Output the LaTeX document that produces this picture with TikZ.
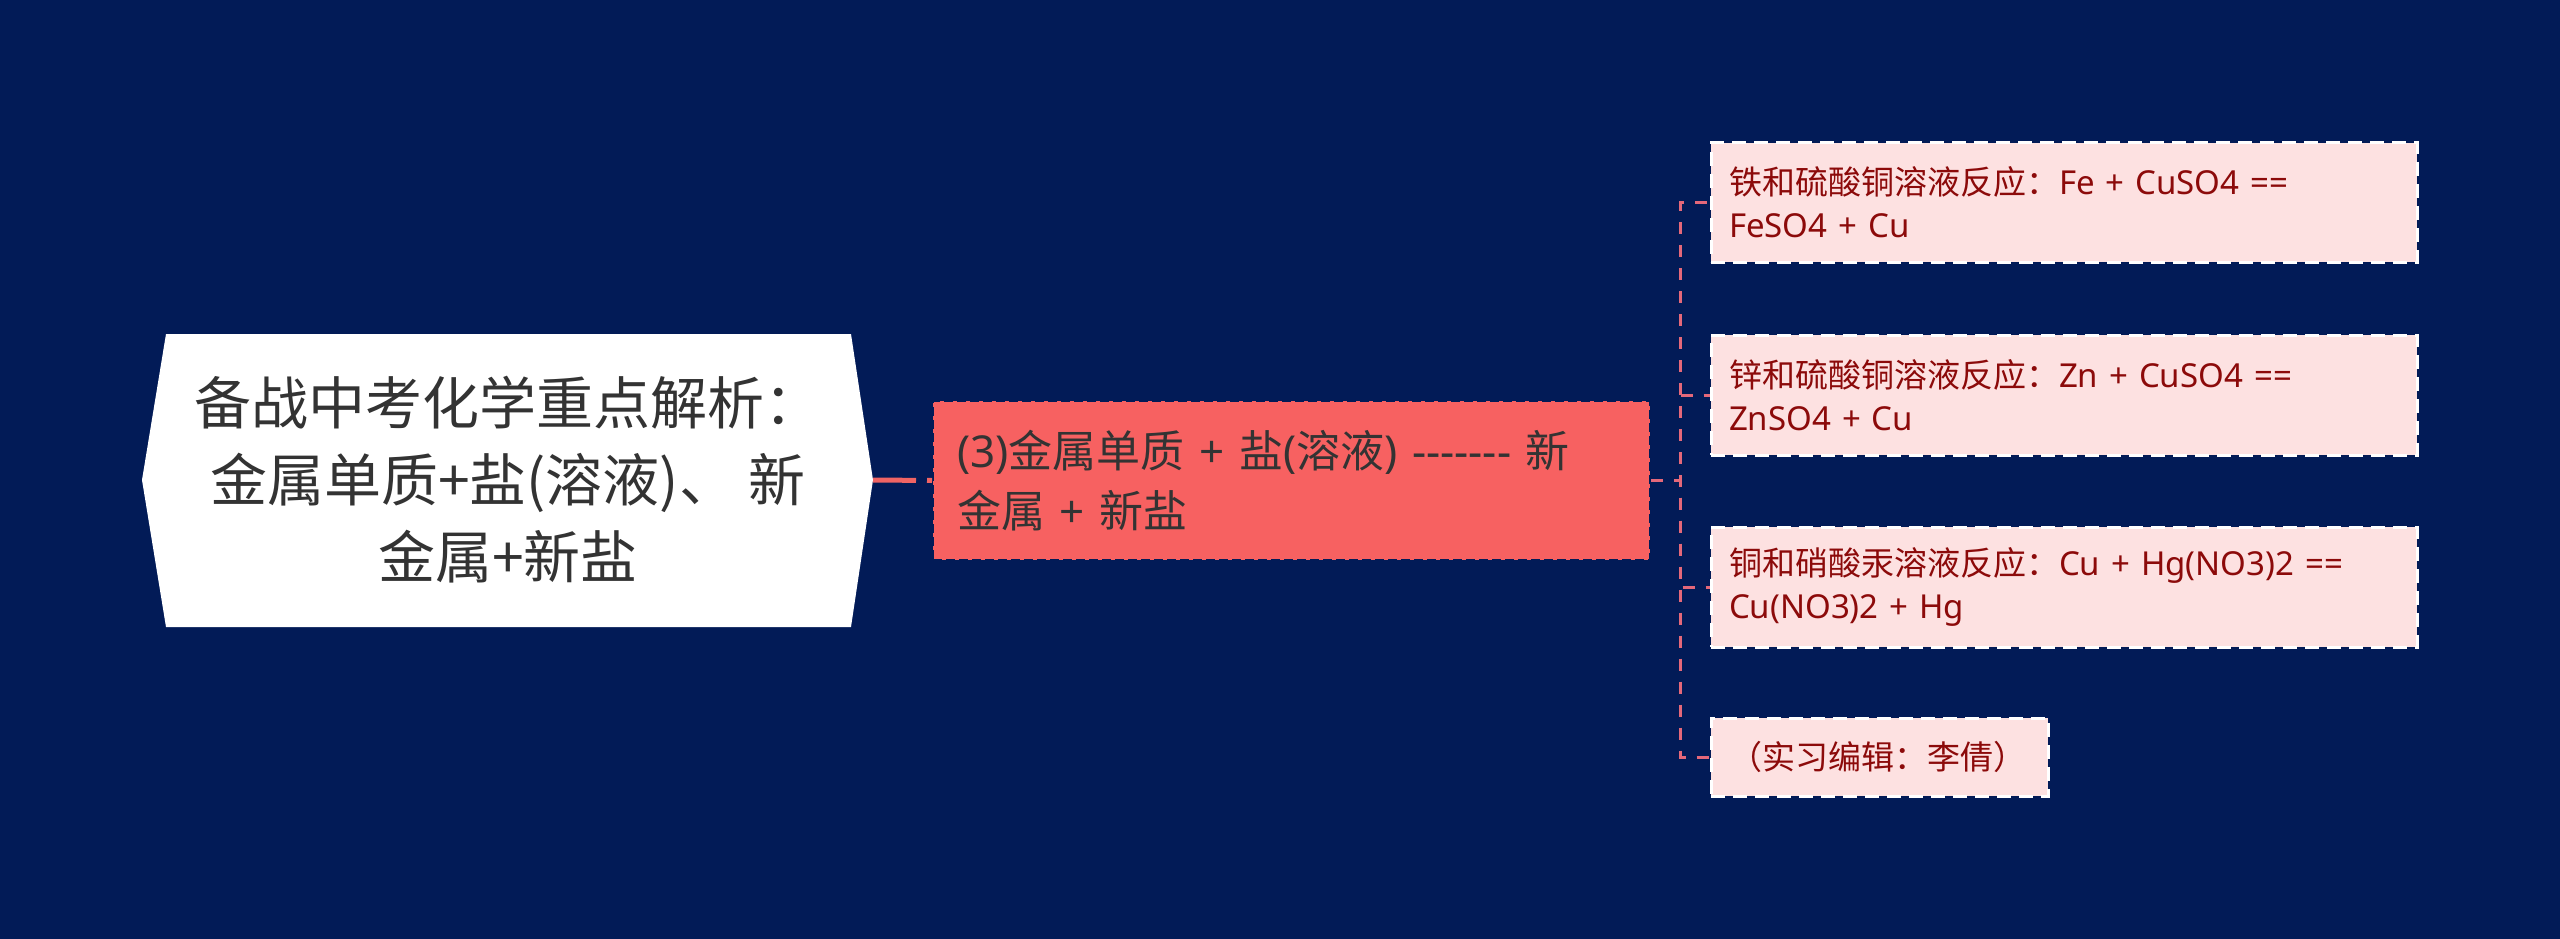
\documentclass[tikz,border=0pt]{standalone}
\usepackage{fontspec}
\setmainfont{Noto Sans CJK SC}
\newfontfamily\lat{Noto Sans}
\newcommand{\hy}{-\kern0pt}
\definecolor{bg}{HTML}{021B57}
\definecolor{coral}{HTML}{F76161}
\definecolor{leaffill}{HTML}{FDE1E1}
\definecolor{leaftext}{HTML}{8C0A0A}
\definecolor{darktext}{HTML}{333333}
\definecolor{linkred}{HTML}{F06464}
\definecolor{linkpink}{HTML}{E4687A}
\tikzset{
  roottext/.style={align=center, text=darktext, inner sep=0pt,
    font=\fontsize{57}{77}\selectfont},
  midbox/.style={rectangle, fill=coral, draw=bg, line width=2pt,
    dash pattern=on 9pt off 4pt, text=darktext, align=left,
    minimum width=717pt, minimum height=159pt, text width=669pt,
    inner xsep=24pt, inner ysep=0pt, font=\fontsize{44}{60}\selectfont},
  leafbox/.style={rectangle, fill=leaffill,
    preaction={draw=bg, line width=3pt},
    draw=white, line width=3pt, dash pattern=on 14pt off 8pt,
    text=leaftext, align=left, inner xsep=18pt, inner ysep=0pt,
    font=\fontsize{33}{43}\selectfont},
  rootlink/.style={draw=linkred, line width=5pt, dash pattern=on 43pt off 11pt},
  leaflink/.style={draw=linkpink, line width=3pt, dash pattern=on 12pt off 11pt}
}
\begin{document}
\begin{tikzpicture}[x=1pt,y=-1pt]
\fill[bg] (0,0) rectangle (2560,939);
\useasboundingbox (0,0) rectangle (2560,939);
% root hexagon
\fill[white] (142,480) -- (166,334) -- (851,334) -- (873,480) -- (851,627) -- (166,627) -- cycle;
\node[roottext] (root) at (508,480) {备战中考化学重点解析：\\金属单质+盐(溶液)、 新\\金属+新盐};
\coordinate (rootE) at (873,480);
% middle node
\node[midbox] (mid) at (1291.5,480.5) {{\lat (3)}金属单质{\lat\ + }盐{\lat (}溶液{\lat ) \hy\hy\hy\hy\hy\hy\hy\ }新\\金属{\lat\ + }新盐};
% leaves
\node[leafbox, minimum width=706pt, minimum height=119pt, text width=670pt] (leaf1) at (2064,202.5) {铁和硫酸铜溶液反应：{\lat Fe + CuSO4 ==}\\{\lat FeSO4 + Cu}};
\node[leafbox, minimum width=706pt, minimum height=120pt, text width=670pt] (leaf2) at (2064,395) {锌和硫酸铜溶液反应：{\lat Zn + CuSO4 ==}\\{\lat ZnSO4 + Cu}};
\node[leafbox, minimum width=706pt, minimum height=120pt, text width=670pt] (leaf3) at (2064,587) {铜和硝酸汞溶液反应：{\lat Cu + Hg(NO3)2 ==}\\{\lat Cu(NO3)2 + Hg}};
\node[leafbox, minimum width=337pt, minimum height=78pt, text width=301pt] (leaf4) at (1879.5,757) {（实习编辑：李倩）};
% connectors
\coordinate (fork) at (1680,480.5);
\draw[rootlink] (rootE) -- (mid.west);
\draw[leaflink] (mid.east) -- (fork) |- (leaf1.west);
\draw[leaflink] (mid.east) -- (fork) |- (leaf2.west);
\draw[leaflink] (mid.east) -- (fork) |- (leaf3.west);
\draw[leaflink] (mid.east) -- (fork) |- (leaf4.west);
\end{tikzpicture}
\end{document}
